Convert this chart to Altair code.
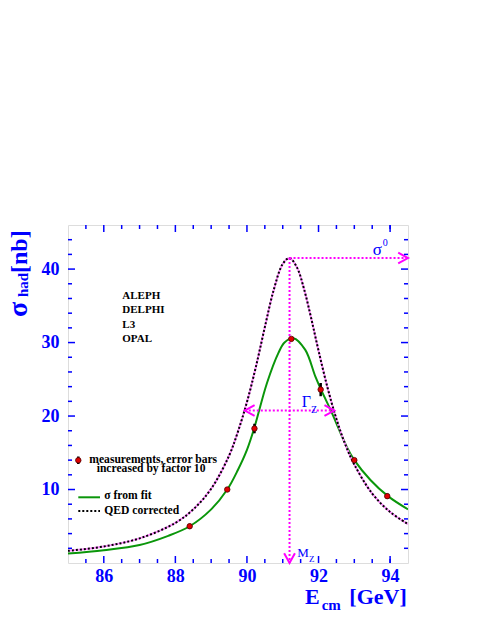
import altair as alt
import pandas as pd

# ---------------- data ----------------
fit_E = [85.0, 86.0, 87.0, 87.8, 88.4, 89.0, 89.45, 89.75, 90.0, 90.2, 90.56, 90.88,
         91.05, 91.3, 91.63, 91.91, 92.07, 92.33, 92.8, 93.0, 93.45, 93.94, 94.5]
fit_sigma = [1.3, 1.75, 2.45, 3.7, 5.0, 7.3, 10.0, 12.7, 15.4, 18.3, 24.5, 28.6,
             30.0, 30.6, 29.0, 25.4, 23.6, 20.9, 15.7, 14.0, 11.3, 9.1, 7.3]

qed_E = [85.0, 86.0, 87.0, 88.0, 88.5, 89.0, 89.5, 89.75, 90.0, 90.25, 90.5, 90.75,
         91.0, 91.19, 91.4, 91.6, 91.8, 92.0, 92.25, 92.5, 92.75, 93.0, 93.5, 94.0, 94.5]
qed_sigma = [1.65, 2.25, 3.35, 5.45, 7.3, 10.1, 14.6, 17.9, 21.9, 26.7, 32.1, 37.2,
             40.7, 41.5, 40.2, 37.2, 33.2, 28.9, 23.9, 19.6, 16.1, 13.4, 9.45, 6.95, 5.3]

meas_E = [88.4, 89.45, 90.21, 91.24, 92.06, 93.0, 93.92]
meas_sigma = [5.0, 10.0, 18.3, 30.5, 23.6, 14.0, 9.1]
meas_err = [0.35, 0.25, 0.65, 0.2, 0.9, 0.2, 0.35]

experiments = ["ALEPH", "DELPHI", "L3", "OPAL"]

M_Z = 91.19
sigma0 = 41.5
gamma_lo = 89.94
gamma_hi = 92.44
half_max = 20.75

x_major = [86, 88, 90, 92, 94]
x_minor = [85.5, 86.5, 87, 87.5, 88.5, 89, 89.5, 90.5, 91, 91.5, 92.5, 93, 93.5, 94]
y_major = [10, 20, 30, 40]
y_minor = [2, 4, 6, 8, 12, 14, 16, 18, 22, 24, 26, 28, 32, 34, 36, 38, 42, 44]

X_MIN, X_MAX = 85.0, 94.5
Y_MIN, Y_MAX = 0.0, 46.0

# ---------------- styling ----------------
BLUE = "#0000ff"
MAG = "#ff00ff"
GREEN = "#0a960a"
FONT = "Liberation Serif"

xs = alt.Scale(domain=[X_MIN, X_MAX], nice=False, zero=False)
ys = alt.Scale(domain=[Y_MIN, Y_MAX], nice=False, zero=False)

fit_df = pd.DataFrame({"E": fit_E, "s": fit_sigma})
qed_df = pd.DataFrame({"E": qed_E, "s": qed_sigma})
meas_df = pd.DataFrame({"E": meas_E, "s": meas_sigma, "err": meas_err})
meas_df["lo"] = meas_df["s"] - meas_df["err"]
meas_df["hi"] = meas_df["s"] + meas_df["err"]

one = pd.DataFrame({"a": [0]})

x_axis = alt.Axis(values=x_major, ticks=False, tickSize=0, domain=False, grid=False,
                  labelFont=FONT, labelFontSize=18, labelFontWeight="bold",
                  labelColor=BLUE, labelPadding=4, labelFlush=False, labelOverlap=False,
                  title=None)
y_axis = alt.Axis(values=y_major, ticks=False, tickSize=0, domain=False, grid=False,
                  labelFont=FONT, labelFontSize=18, labelFontWeight="bold",
                  labelColor=BLUE, labelPadding=9, labelOverlap=False, title=None)


def X(field=None, datum=None):
    if datum is not None:
        return alt.X(datum=datum, scale=xs, axis=x_axis)
    return alt.X(field, scale=xs, axis=x_axis)


def Y(field=None, datum=None):
    if datum is not None:
        return alt.Y(datum=datum, scale=ys, axis=y_axis)
    return alt.Y(field, scale=ys, axis=y_axis)


layers = []

# green fit curve
layers.append(
    alt.Chart(fit_df).mark_line(color=GREEN, strokeWidth=2, interpolate="catmull-rom", clip=True)
    .encode(x=X("E:Q"), y=Y("s:Q"))
)
# QED corrected: pink base + black dots
layers.append(
    alt.Chart(qed_df).mark_line(color="#ff8cff", strokeWidth=2, interpolate="catmull-rom", clip=True)
    .encode(x=X("E:Q"), y=Y("s:Q"))
)
layers.append(
    alt.Chart(qed_df).mark_line(color="black", strokeWidth=2, strokeDash=[2, 2],
                                interpolate="catmull-rom", clip=True)
    .encode(x=X("E:Q"), y=Y("s:Q"))
)


# magenta dotted annotation lines
def mrule(x1, x2, y1, y2):
    return alt.Chart(one).mark_rule(color=MAG, strokeWidth=2, strokeDash=[2, 2]).encode(
        x=X(datum=x1), x2=alt.X2(datum=x2), y=Y(datum=y1), y2=alt.Y2(datum=y2))


layers.append(mrule(M_Z, M_Z, sigma0, Y_MIN))
layers.append(mrule(M_Z, X_MAX, sigma0, sigma0))
layers.append(mrule(gamma_lo, gamma_hi, half_max, half_max))

arrow_df = pd.DataFrame({
    "E": [X_MAX, M_Z, gamma_lo, gamma_hi],
    "s": [sigma0, Y_MIN, half_max, half_max],
    "ang": [0, 90, 180, 0],
})
layers.append(
    alt.Chart(arrow_df).mark_point(shape="M -2 -1.1 L 0 0 L -2 1.1", filled=False,
                                   stroke=MAG, strokeWidth=2, size=96, opacity=1)
    .encode(x=X("E:Q"), y=Y("s:Q"), angle=alt.Angle("ang:Q", scale=None))
)

# measurements
layers.append(
    alt.Chart(meas_df).mark_rule(color="black", strokeWidth=2.5)
    .encode(x=X("E:Q"), y=Y("lo:Q"), y2="hi:Q")
)
layers.append(
    alt.Chart(meas_df).mark_point(shape="circle", filled=True, fill="#e00000",
                                  stroke="#500000", strokeWidth=0.8, size=30, opacity=1)
    .encode(x=X("E:Q"), y=Y("s:Q"))
)


# inward ticks on all four sides (clipped to the frame)
def vticks(vals, yv, size):
    return alt.Chart(pd.DataFrame({"E": vals})).mark_tick(
        orient="vertical", color=BLUE, thickness=1.5, size=size, clip=True, opacity=1
    ).encode(x=X("E:Q"), y=Y(datum=yv))


def hticks(vals, xv, size):
    return alt.Chart(pd.DataFrame({"s": vals})).mark_tick(
        orient="horizontal", color=BLUE, thickness=1.5, size=size, clip=True, opacity=1
    ).encode(y=Y("s:Q"), x=X(datum=xv))


for yv in (Y_MIN, Y_MAX):
    layers.append(vticks(x_major, yv, 14))
    layers.append(vticks(x_minor, yv, 8))
for xv in (X_MIN, X_MAX):
    layers.append(hticks(y_major, xv, 14))
    layers.append(hticks(y_minor, xv, 8))


# text helper (pixel positions relative to the plot area)
def txt(t, x, y, size, color="black", weight="bold", angle=0, align="left"):
    kw = dict(text=t, font=FONT, fontSize=size, color=color, fontWeight=weight,
              align=align, baseline="alphabetic")
    if angle:
        kw["angle"] = angle
    return alt.Chart(one).mark_text(**kw).encode(x=alt.value(x), y=alt.value(y))


# experiments
for i, name in enumerate(experiments):
    layers.append(txt(name, 54.3, 73.5 + i * 14.6, 11))

# legend
layers.append(
    alt.Chart(one).mark_rule(color="black", strokeWidth=2.5)
    .encode(x=alt.value(10.3), y=alt.value(231.5), y2=alt.value(239))
)
layers.append(
    alt.Chart(one).mark_point(shape="circle", filled=True, fill="#e00000", stroke="#500000",
                              strokeWidth=0.8, size=30, opacity=1)
    .encode(x=alt.value(10.3), y=alt.value(235.3))
)
layers.append(txt("measurements, error bars", 21.3, 237.8, 11.6))
layers.append(txt("increased by factor 10", 28.7, 246.8, 11.6))
layers.append(
    alt.Chart(one).mark_rule(color=GREEN, strokeWidth=2)
    .encode(x=alt.value(10.3), x2=alt.value(32), y=alt.value(272.3))
)
layers.append(txt("σ from fit", 36.3, 274.0, 11.6))
layers.append(
    alt.Chart(one).mark_rule(color="black", strokeWidth=2, strokeDash=[2, 2])
    .encode(x=alt.value(10.3), x2=alt.value(32), y=alt.value(286))
)
layers.append(txt("QED corrected", 36.3, 288.5, 11.6))

# physics labels
layers.append(txt("σ", 304.7, 29.5, 17, color=BLUE, weight="normal"))
layers.append(txt("0", 314.7, 21.0, 10, color=BLUE, weight="normal"))
layers.append(txt("Γ", 233.7, 181.7, 16, color=BLUE, weight="normal"))
layers.append(txt("Z", 243.0, 188.0, 10, color=BLUE, weight="normal"))
layers.append(txt("M", 229.3, 331.7, 13, color=BLUE, weight="normal"))
layers.append(txt("Z", 241.0, 336.7, 9, color=BLUE, weight="normal"))

# axis titles
layers.append(txt("σ", -41, 92, 28, color=BLUE, angle=270))
layers.append(txt("had", -40, 72, 15, color=BLUE, angle=270))
layers.append(txt("[nb]", -41, 48, 24, color=BLUE, angle=270))
layers.append(txt("E", 237, 378.5, 22, color=BLUE))
layers.append(txt("cm", 253.7, 385, 15, color=BLUE))
layers.append(txt("[GeV]", 281.3, 378.5, 22, color=BLUE))

chart = alt.layer(*layers).properties(
    width=340, height=338,
    autosize=alt.AutoSizeParams(type="none"),
    padding={"left": 60, "top": 217, "right": 74, "bottom": 63},
).configure_view(stroke=BLUE, strokeWidth=2).configure(background="white")

chart.save("out.html", embed_options={"renderer": "svg", "actions": False})
